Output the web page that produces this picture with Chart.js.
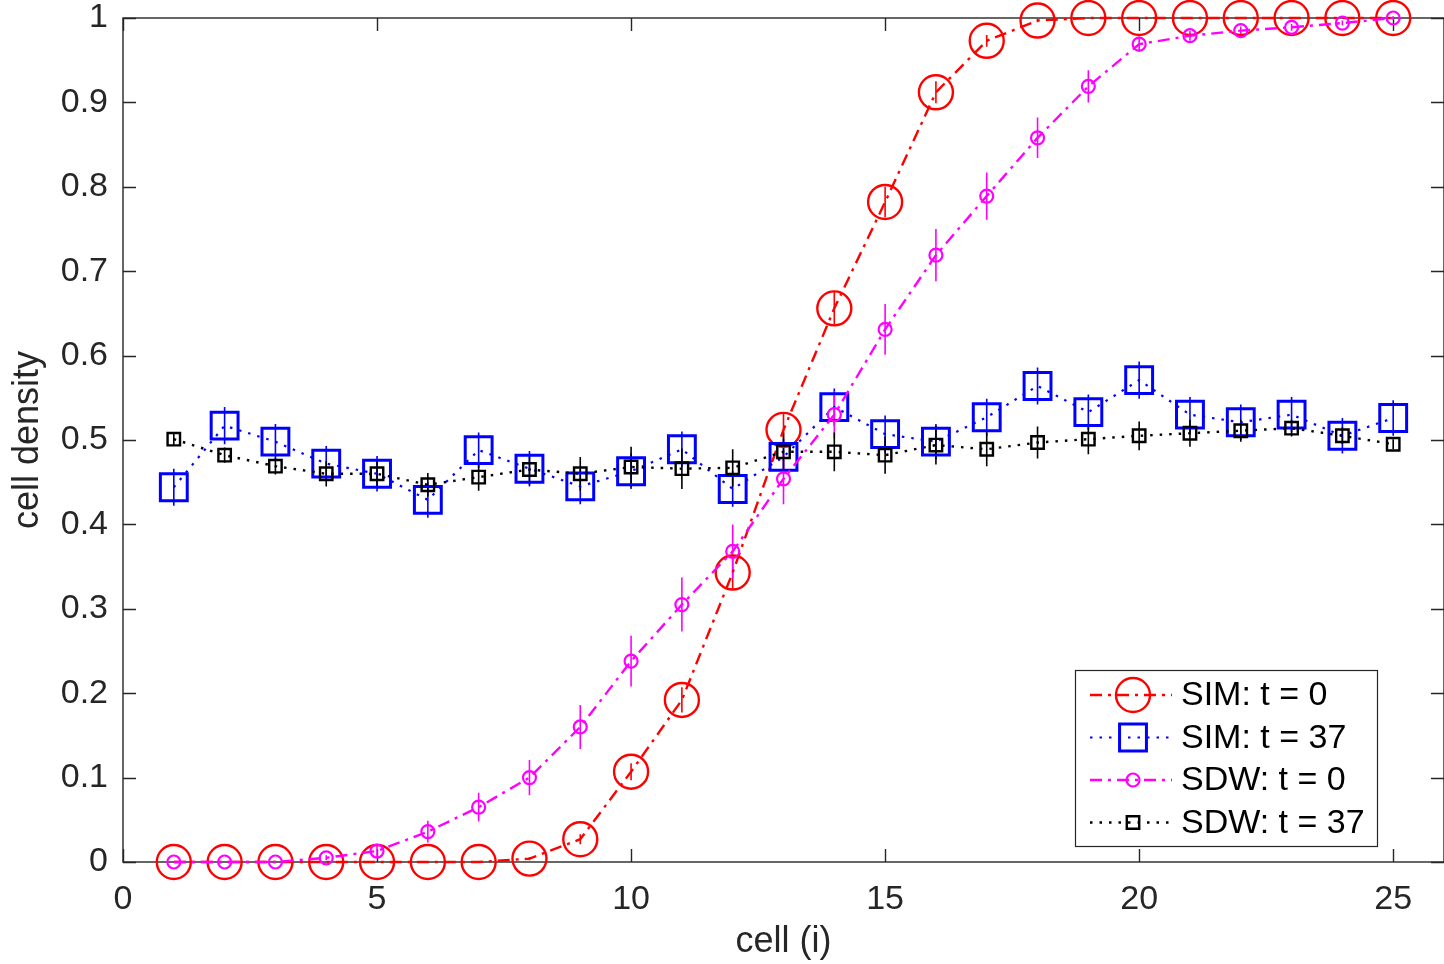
<!DOCTYPE html>
<html><head><meta charset="utf-8">
<script src="https://cdn.jsdelivr.net/npm/chart.js@4/dist/chart.umd.min.js"></script>
<style>html,body{margin:0;padding:0;background:#fff;overflow:hidden}</style>
</head><body>
<canvas id="c" width="1444" height="964"></canvas>
<script>
const cells = [1,2,3,4,5,6,7,8,9,10,11,12,13,14,15,16,17,18,19,20,21,22,23,24,25];
const seriesLabels = ['SIM: t = 0','SIM: t = 37','SDW: t = 0','SDW: t = 37'];
const xTicks = [0,5,10,15,20,25];
const yTicks = [0,0.1,0.2,0.3,0.4,0.5,0.6,0.7,0.8,0.9,1];
const xTitle = 'cell (i)';
const yTitle = 'cell density';

const simT0 = [0,0,0,0,0,0,0,0.004,0.027,0.107,0.192,0.343,0.512,0.656,0.782,0.912,0.973,0.997,1,1,1,1,1,1,1];
const simT0Err = [0,0,0,0,0,0,0,0.002,0.006,0.010,0.015,0.020,0.020,0.020,0.018,0.013,0.007,0.002,0,0,0,0,0,0,0];
const simT37 = [0.444,0.517,0.498,0.472,0.460,0.429,0.488,0.466,0.445,0.463,0.489,0.442,0.480,0.539,0.507,0.498,0.527,0.564,0.533,0.571,0.530,0.521,0.530,0.505,0.526];
const simT37Err = [0.022,0.022,0.021,0.021,0.021,0.021,0.021,0.021,0.021,0.021,0.021,0.021,0.021,0.022,0.022,0.021,0.022,0.022,0.021,0.022,0.021,0.021,0.021,0.021,0.021];
const sdwT0 = [0,0,0,0.005,0.013,0.036,0.065,0.100,0.160,0.238,0.305,0.368,0.454,0.530,0.631,0.719,0.789,0.858,0.919,0.969,0.979,0.985,0.989,0.994,1.0];
const sdwT0Err = [0,0,0,0.003,0.008,0.013,0.017,0.021,0.026,0.030,0.032,0.032,0.030,0.028,0.030,0.031,0.028,0.024,0.019,0.009,0.006,0.005,0.004,0.003,0.002];
const sdwT37 = [0.501,0.482,0.469,0.460,0.460,0.447,0.456,0.465,0.460,0.468,0.466,0.467,0.486,0.486,0.482,0.494,0.489,0.497,0.501,0.505,0.508,0.511,0.514,0.505,0.495];
const sdwT37Err = [0.008,0.009,0.010,0.015,0.016,0.014,0.016,0.018,0.020,0.024,0.024,0.022,0.023,0.023,0.022,0.023,0.020,0.019,0.018,0.017,0.016,0.013,0.010,0.010,0.006];

const FONT = '"Liberation Sans", Arial, Helvetica, sans-serif';
const AXC = '#262626';

function mk(label, vals, errs, color, dash, lw, style, r, pbw, order){
  return {
    label, data: cells.map((c,i)=>({x:c, y:vals[i]})), errs,
    borderColor: color, backgroundColor: 'rgba(0,0,0,0)',
    borderWidth: lw, borderDash: dash, borderCapStyle: 'butt',
    pointStyle: style, pointRadius: r, pointHoverRadius: r,
    pointBorderWidth: pbw, pointHoverBorderWidth: pbw,
    pointBorderColor: color, pointBackgroundColor: 'rgba(0,0,0,0)',
    showLine: true, tension: 0, clip: false, order
  };
}

const datasets = [
  mk(seriesLabels[0], simT0, simT0Err, '#ff0000', [12,6,3,6], 2.4, 'circle', 17, 2.4, 4),
  mk(seriesLabels[1], simT37, simT37Err, '#0000ff', [2.5,7], 2.2, 'rect', 19, 3, 3),
  mk(seriesLabels[2], sdwT0, sdwT0Err, '#ff00ff', [12,6,3,6], 2.4, 'circle', 6.5, 2.2, 2),
  mk(seriesLabels[3], sdwT37, sdwT37Err, '#000000', [2.5,7], 2.4, 'rect', 8.8, 2.4, 1)
];

const boxPlugin = {
  id: 'boxAxes',
  beforeDatasetsDraw(chart){
    const {ctx, chartArea:{left,right,top,bottom}} = chart;
    const xs = chart.scales.x, ys = chart.scales.y;
    ctx.save();
    ctx.strokeStyle = AXC; ctx.lineWidth = 1.4;
    ctx.strokeRect(left, top, right-left, bottom-top);
    ctx.beginPath();
    xTicks.forEach(v=>{
      const p = Math.round(xs.getPixelForValue(v))+0.5;
      ctx.moveTo(p,bottom); ctx.lineTo(p,bottom-13);
      ctx.moveTo(p,top); ctx.lineTo(p,top+13);
    });
    yTicks.forEach(v=>{
      const p = Math.round(ys.getPixelForValue(v))+0.5;
      ctx.moveTo(left,p); ctx.lineTo(left+13,p);
      ctx.moveTo(right,p); ctx.lineTo(right-13,p);
    });
    ctx.stroke();
    chart.data.datasets.forEach(ds=>{
      ctx.strokeStyle = ds.borderColor; ctx.lineWidth = 1.6;
      ctx.beginPath();
      ds.data.forEach((pt,i)=>{
        const e = ds.errs[i]; if(!e) return;
        const x = xs.getPixelForValue(pt.x);
        ctx.moveTo(x, ys.getPixelForValue(pt.y-e));
        ctx.lineTo(x, ys.getPixelForValue(pt.y+e));
      });
      ctx.stroke();
    });
    ctx.restore();
  }
};

const legendPlugin = {
  id: 'boxLegend',
  afterDraw(chart){
    const ctx = chart.ctx;
    const L=1075, T=670, W=302, H=176;
    ctx.save();
    ctx.fillStyle='#fff'; ctx.fillRect(L,T,W,H);
    ctx.strokeStyle=AXC; ctx.lineWidth=1.2; ctx.strokeRect(L+0.5,T+0.5,W,H);
    chart.data.datasets.forEach((ds,i)=>{
      const y = 695 + i*42.5;
      ctx.strokeStyle = ds.borderColor; ctx.lineWidth = ds.borderWidth;
      ctx.lineCap='butt';
      ctx.setLineDash(ds.borderDash);
      ctx.beginPath(); ctx.moveTo(1090,y); ctx.lineTo(1172,y); ctx.stroke();
      ctx.setLineDash([]);
      ctx.lineWidth = ds.pointBorderWidth;
      ctx.fillStyle = 'rgba(0,0,0,0)';
      Chart.helpers.drawPoint(ctx, {pointStyle: ds.pointStyle, radius: ds.pointRadius, borderWidth: ds.pointBorderWidth, rotation: 0}, 1133, y);
      ctx.fillStyle = '#000';
      ctx.font = '34px ' + FONT;
      ctx.textBaseline = 'middle'; ctx.textAlign = 'left';
      ctx.fillText(ds.label, 1181, y+1);
    });
    ctx.restore();
  }
};

new Chart(document.getElementById('c'), {
  type: 'scatter',
  data: { datasets },
  plugins: [boxPlugin, legendPlugin],
  options: {
    responsive: false, animation: false, events: [],
    layout: { autoPadding: false, padding: { left: 0, right: 0, top: 18, bottom: 0 } },
    plugins: { legend: { display: false }, tooltip: { enabled: false } },
    scales: {
      x: {
        type: 'linear', min: 0, max: 26,
        afterBuildTicks: s => { s.ticks = xTicks.map(v=>({value:v})); },
        afterFit: s => { s.height = 102; },
        grid: { display: true, drawOnChartArea: false, drawTicks: true, tickLength: 17, tickColor: 'rgba(0,0,0,0)' },
        border: { display: false },
        ticks: { padding: 0, color: AXC, font: { size: 34, family: FONT, lineHeight: 1.2 }, maxRotation: 0, autoSkip: false,
                 callback: v => String(v) },
        title: { display: true, text: xTitle, color: AXC, font: { size: 36, family: FONT }, padding: { top: 0, bottom: 0 } }
      },
      y: {
        type: 'linear', min: 0, max: 1,
        afterBuildTicks: s => { s.ticks = yTicks.map(v=>({value:v})); },
        afterFit: s => { s.width = 123; },
        grid: { display: true, drawOnChartArea: false, drawTicks: true, tickLength: 15, tickColor: 'rgba(0,0,0,0)' },
        border: { display: false },
        ticks: { padding: 0, color: AXC, font: { size: 34, family: FONT, lineHeight: 1.0 }, autoSkip: false,
                 callback: v => String(Number(v.toFixed(1))) },
        title: { display: true, text: yTitle, color: AXC, font: { size: 36, family: FONT }, padding: { top: 6, bottom: 0 } }
      }
    }
  }
});
</script>
</body></html>
